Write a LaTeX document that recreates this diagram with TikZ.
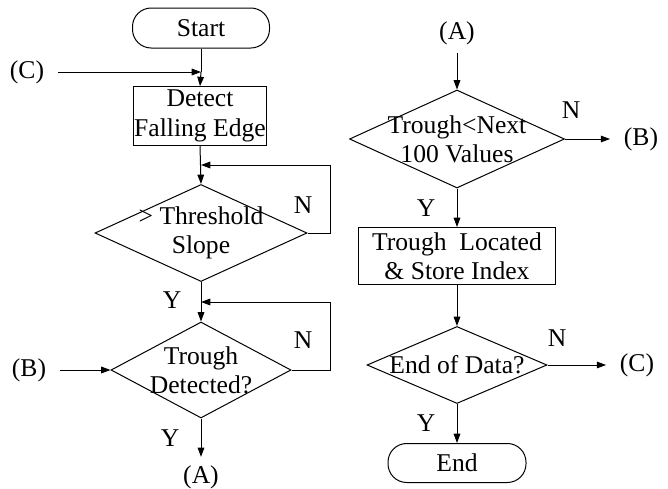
\documentclass[tikz,border=0pt]{standalone}
\usepackage{fontspec}
\setmainfont{Liberation Serif}
\usetikzlibrary{arrows.meta,shapes.geometric}
\begin{document}
\begin{tikzpicture}[x=0.75pt,y=-0.75pt,
  font=\fontsize{19.2}{22}\selectfont,
  line width=0.75pt,
  arr/.style={-{Triangle[length=7pt,width=5pt]}},
  term/.style={draw,rectangle,rounded corners=14pt,inner sep=0pt,align=center},
  proc/.style={draw,rectangle,inner sep=0pt,align=center},
  dec/.style={draw,diamond,inner sep=0pt},
  conn/.style={inner xsep=10pt,inner ysep=6pt},
  lab/.style={inner sep=0pt}]
\useasboundingbox (0,0) rectangle (668,489);
% left column
\node[term,minimum width=102.75pt,minimum height=30pt] (start) at (201,28) {Start};
\node[proc,minimum width=100pt,minimum height=44pt] (det) at (200,116) {Detect\\Falling Edge};
\node[dec,minimum width=159pt,minimum height=72.75pt,label={[align=center]center:{> Threshold\\Slope}}] (d1) at (201,233) {};
\node[dec,minimum width=135pt,minimum height=72pt,label={[align=center]center:{Trough\\Detected?}}] (d2) at (201,370) {};
\node[conn] (C1) at (27,72) {(C)};
\node[conn] (B1) at (29,370) {(B)};
\node[conn] (A1) at (201,477) {(A)};
\coordinate (j1) at (201,72);
\coordinate (j2) at (201,165);
\coordinate (j3) at (201,302);
\node[lab] (N1) at (303,205) {N};
\node[lab] (N2) at (303,340) {N};
\node[lab] (Y1) at (172,300) {Y};
\node[lab] (Y2) at (170,438) {Y};
\draw (start.south) -- (j1);
\draw[arr] (j1) -- (det.north);
\draw[arr] (C1.east) -- (j1);
\draw[arr] (det.south) -- (d1.north);
\draw[arr] (d1.east) -- (330,233) -- (330,165) -- (j2);
\draw[arr] (d1.south) -- (d2.north);
\draw[arr] (d2.east) -- (330,370) -- (330,302) -- (j3);
\draw[arr] (B1.east) -- (d2.west);
\draw[arr] (d2.south) -- (A1.north);
% right column
\node[conn] (A2) at (457,33) {(A)};
\node[dec,minimum width=161.25pt,minimum height=73.5pt,label={[align=center]center:{Trough<Next\\100 Values}}] (d3) at (457,139) {};
\node[proc,minimum width=147.75pt,minimum height=42.75pt] (box2) at (457,256) {Trough\ \ Located\\\& Store Index};
\node[dec,minimum width=135pt,minimum height=57.75pt,label={center:{End of Data?}}] (d4) at (457,365) {};
\node[term,minimum width=103.5pt,minimum height=29.25pt] (end) at (457,463) {End};
\node[conn] (B2) at (641,139) {(B)};
\node[conn] (C2) at (637,365) {(C)};
\node[lab] (N3) at (571,110) {N};
\node[lab] (N4) at (557,338) {N};
\node[lab] (Y3) at (426,208) {Y};
\node[lab] (Y4) at (426,423) {Y};
\draw[arr] (A2.south) -- (d3.north);
\draw[arr] (d3.east) -- (B2.west);
\draw[arr] (d3.south) -- (box2.north);
\draw[arr] (box2.south) -- (d4.north);
\draw[arr] (d4.east) -- (C2.west);
\draw[arr] (d4.south) -- (end.north);
\end{tikzpicture}
\end{document}
